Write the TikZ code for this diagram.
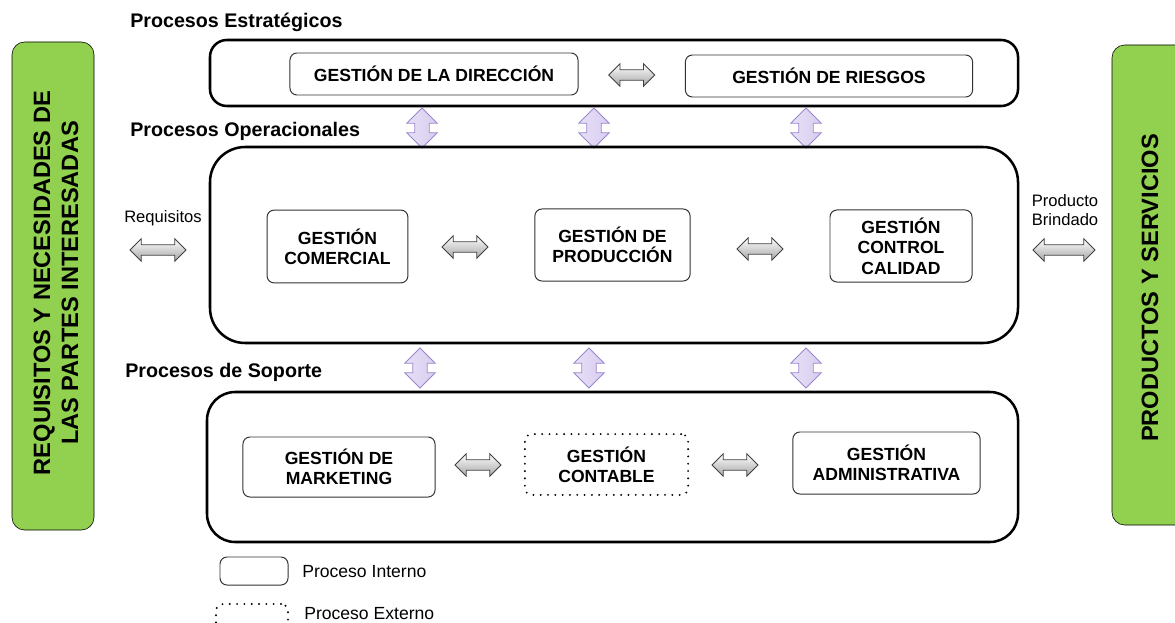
\documentclass[tikz,border=0pt]{standalone}
\usepackage{fontspec}
\setmainfont{Liberation Sans}
\usetikzlibrary{shapes.arrows,calc}

\definecolor{panelgreen}{HTML}{92D050}
\definecolor{lilac}{HTML}{D8CCF0}
\definecolor{lilacline}{HTML}{9A86CC}

\tikzset{
  gbox/.style={draw=black, line width=1.8pt, rounded corners=12pt},
  pbox/.style={draw=black!80, line width=0.7pt, rounded corners=5pt, align=center, font=\bfseries\fontsize{12.5}{14.5}\selectfont, inner sep=0pt},
  ebox/.style={pbox, draw=black, line width=1.5pt, line cap=round, dash pattern=on 0pt off 5.2pt},
  secname/.style={anchor=west, inner sep=0pt, font=\bfseries\fontsize{14}{16}\selectfont},
  side/.style={fill=panelgreen, rounded corners=9pt},
  sidetext/.style={rotate=90, align=center, font=\bfseries\fontsize{16.8}{20}\selectfont},
  garrow/.style={double arrow, draw=black!75, line width=0.6pt, top color=white, bottom color=black!35,
    inner xsep=0pt, inner ysep=0.12cm, minimum height=1.15cm, double arrow head extend=0.15cm},
  parrow/.style={double arrow, rotate=90, draw=lilacline, line width=0.6pt, left color=lilac!60, right color=lilac,
    inner xsep=0pt, inner ysep=0.17cm, minimum height=1cm, double arrow head extend=0.2cm},
  small/.style={font=\fontsize{11.8}{13.5}\selectfont, align=center}
}

\begin{document}
\begin{tikzpicture}[x=0.025cm, y=-0.025cm]
  \useasboundingbox (0,0) rectangle (1175,623);

  % Side panels
  \draw[side] (12,42) rectangle (94,530);
  \node[sidetext] (need) at (56,283) {REQUISITOS Y NECESIDADES DE\\LAS PARTES INTERESADAS};
  \draw[side] (1112,45) rectangle (1190,525);
  \node[sidetext] (prod) at (1150,288) {PRODUCTOS Y SERVICIOS};

  % Procesos Estrategicos
  \node[secname] (est) at (130,22) {Procesos Estratégicos};
  \draw[gbox] (210,40) rectangle (1018,106);
  \node[pbox, minimum width=7.2cm, minimum height=1.05cm] (dir) at (434,74) {GESTIÓN DE LA DIRECCIÓN};
  \node[pbox, minimum width=7.18cm, minimum height=1.05cm] (ries) at (829,76) {GESTIÓN DE RIESGOS};
  \node[garrow] (a1) at ($(dir.east)!0.5!(ries.west)$) {};

  % Flechas estrategicos - operacionales
  \foreach \x/\n in {422/u1, 594/u2, 806/u3}
    \node[parrow] (\n) at (\x,128) {};

  % Procesos Operacionales
  \node[secname] (ope) at (130,131) {Procesos Operacionales};
  \draw[gbox, rounded corners=25pt] (210,147) rectangle (1018,343);
  \node[pbox, minimum width=3.52cm, minimum height=1.82cm] (com) at (337.5,246.5) {GESTIÓN\\COMERCIAL};
  \node[pbox, minimum width=3.88cm, minimum height=1.8cm] (pro) at (612.5,245) {GESTIÓN DE\\PRODUCCIÓN};
  \node[pbox, minimum width=3.55cm, minimum height=1.8cm] (cal) at (901,246) {GESTIÓN\\CONTROL\\CALIDAD};
  \node[garrow] (a2) at (465,247) {};
  \node[garrow] (a3) at (760,249) {};

  % Entradas y salidas
  \node[small] (req) at (163,218) {Requisitos};
  \node[garrow, minimum height=1.4cm] (a4) at (158,250) {};
  \node[small] (bri) at (1065,210) {Producto\\Brindado};
  \node[garrow, minimum height=1.55cm] (a5) at (1064,250) {};

  % Flechas operacionales - soporte
  \foreach \x/\n in {420/d1, 589/d2, 806/d3}
    \node[parrow] (\n) at (\x,368) {};

  % Procesos de Soporte
  \node[secname] (sop) at (125,372) {Procesos de Soporte};
  \draw[gbox, rounded corners=20pt] (207,392) rectangle (1018,542);
  \node[pbox, minimum width=4.8cm, minimum height=1.5cm] (mkt) at (339,467) {GESTIÓN DE\\MARKETING};
  \node[ebox, minimum width=4.08cm, minimum height=1.52cm] (cont) at (606.5,464.5) {GESTIÓN\\CONTABLE};
  \node[pbox, minimum width=4.68cm, minimum height=1.55cm] (adm) at (886.5,463) {GESTIÓN\\ADMINISTRATIVA};
  \node[garrow] (a6) at (478,465) {};
  \node[garrow] (a7) at (735,465) {};

  % Leyenda
  \node[pbox, minimum width=1.7cm, minimum height=0.7cm] (lin) at (254,571) {};
  \node[small, anchor=west, inner sep=0pt, font=\fontsize{12.5}{14}\selectfont] (tin) at (302,572) {Proceso Interno};
  \node[ebox, minimum width=1.8cm, minimum height=0.7cm] (lex) at (252,618) {};
  \node[small, anchor=west, inner sep=0pt, font=\fontsize{12.5}{14}\selectfont] (tex) at (304,614) {Proceso Externo};
\end{tikzpicture}
\end{document}
